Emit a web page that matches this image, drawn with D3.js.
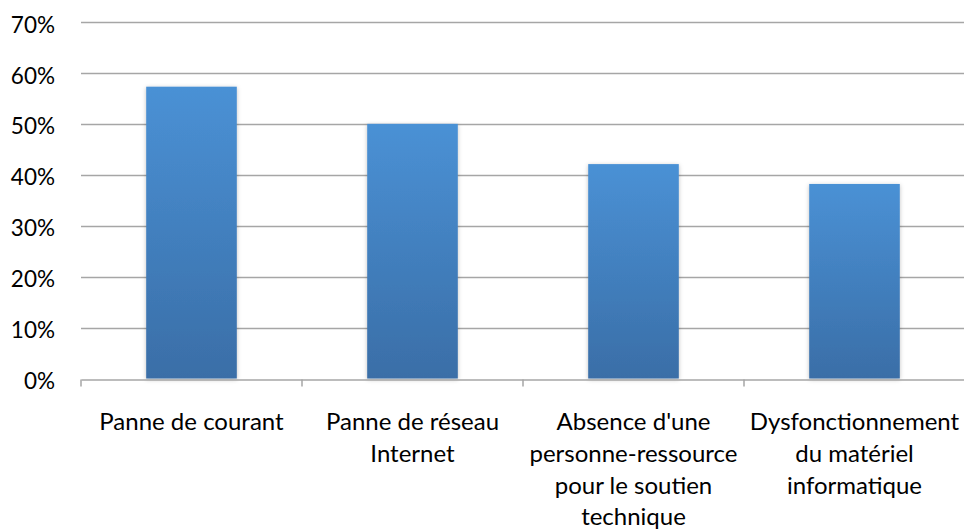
<!DOCTYPE html>
<html lang="fr">
<head>
<meta charset="UTF-8">
<title>Obstacles</title>
<script src="https://d3js.org/d3.v7.min.js"></script>
<style>
    body { margin: 0; background: #ffffff; }
    svg { display: block; font-family: Lato, "Open Sans", sans-serif; }
    .grid line { stroke: #a6a6a6; stroke-width: 1.5; }
    .ytick { font-size: 22.5px; fill: #000; }
    .xlabel { font-size: 24px; fill: #000; }
</style>
</head>
<body>
<svg width="964" height="529"></svg>
<script>
    // donnees
    const categories = [
        "Panne de courant",
        "Panne de réseau Internet",
        "Absence d'une personne-ressource pour le soutien technique",
        "Dysfonctionnement du matériel informatique"
    ];
    const labelLines = [
        ["Panne de courant"],
        ["Panne de réseau", "Internet"],
        ["Absence d'une", "personne-ressource", "pour le soutien", "technique"],
        ["Dysfonctionnement", "du matériel", "informatique"]
    ];
    const valeurs = [0.573, 0.50, 0.421, 0.382];
    const yTicks = [0, 0.1, 0.2, 0.3, 0.4, 0.5, 0.6, 0.7];

    const svg = d3.select("svg");
    const marge = { left: 81, right: 0, top: 22, bottom: 150 };

    const x = d3.scaleBand()
        .domain(categories)
        .range([marge.left, 965])
        .paddingInner(0.59)
        .paddingOuter(0.295);

    const y = d3.scaleLinear()
        .domain([0, 0.7])
        .range([378.5, marge.top]);

    const defs = svg.append("defs");
    const grad = defs.append("linearGradient")
        .attr("id", "barGrad")
        .attr("x1", 0).attr("y1", 0).attr("x2", 0).attr("y2", 1);
    grad.append("stop").attr("offset", "0%").attr("stop-color", "#4a91d5");
    grad.append("stop").attr("offset", "100%").attr("stop-color", "#3a6ea7");

    const ombre = defs.append("filter").attr("id", "ombre")
        .attr("x", "-10%").attr("y", "-10%").attr("width", "120%").attr("height", "120%");
    ombre.append("feDropShadow")
        .attr("dx", 0).attr("dy", 1)
        .attr("stdDeviation", 2)
        .attr("flood-color", "#000")
        .attr("flood-opacity", 0.25);

    // grille horizontale
    svg.append("g")
        .attr("class", "grid")
        .selectAll("line")
        .data(yTicks.filter(d => d > 0))
        .join("line")
        .attr("x1", marge.left)
        .attr("x2", 964)
        .attr("y1", d => Math.round(y(d)) + 0.5)
        .attr("y2", d => Math.round(y(d)) + 0.5);

    // etiquettes axe y
    svg.append("g")
        .selectAll("text")
        .data(yTicks)
        .join("text")
        .attr("class", "ytick")
        .attr("x", 55)
        .attr("y", d => y(d))
        .attr("dy", "0.47em")
        .attr("text-anchor", "end")
        .text(d => d3.format(".0%")(d));

    // barres
    svg.append("g")
        .selectAll("rect")
        .data(valeurs)
        .join("rect")
        .attr("x", (d, i) => x(categories[i]))
        .attr("width", x.bandwidth())
        .attr("y", d => y(d))
        .attr("height", d => y(0) - y(d))
        .attr("fill", "url(#barGrad)")
        .attr("filter", "url(#ombre)");

    // axe x
    const xAxis = d3.axisBottom(x).tickSize(0).tickFormat("");
    const gx = svg.append("g")
        .attr("transform", `translate(0,${Math.round(y(0)) + 0.5})`)
        .call(xAxis);
    gx.select(".domain").attr("stroke", "#a6a6a6").attr("stroke-width", 1.5);

    const bornes = d3.range(categories.length + 1).map(i => marge.left + i * x.step());
    gx.selectAll(".sep")
        .data(bornes)
        .join("line")
        .attr("class", "sep")
        .attr("x1", d => d).attr("x2", d => d)
        .attr("y1", 0).attr("y2", 7)
        .attr("stroke", "#a6a6a6")
        .attr("stroke-width", 1.5);

    // etiquettes categories
    const lab = svg.append("g")
        .selectAll("text")
        .data(labelLines)
        .join("text")
        .attr("class", "xlabel")
        .attr("text-anchor", "middle")
        .attr("x", (d, i) => x(categories[i]) + x.bandwidth() / 2)
        .attr("y", 430);
    lab.selectAll("tspan")
        .data(d => d)
        .join("tspan")
        .attr("x", function() { return d3.select(this.parentNode).attr("x"); })
        .attr("dy", (d, i) => i === 0 ? 0 : 31.8)
        .text(d => d);
</script>
</body>
</html>
